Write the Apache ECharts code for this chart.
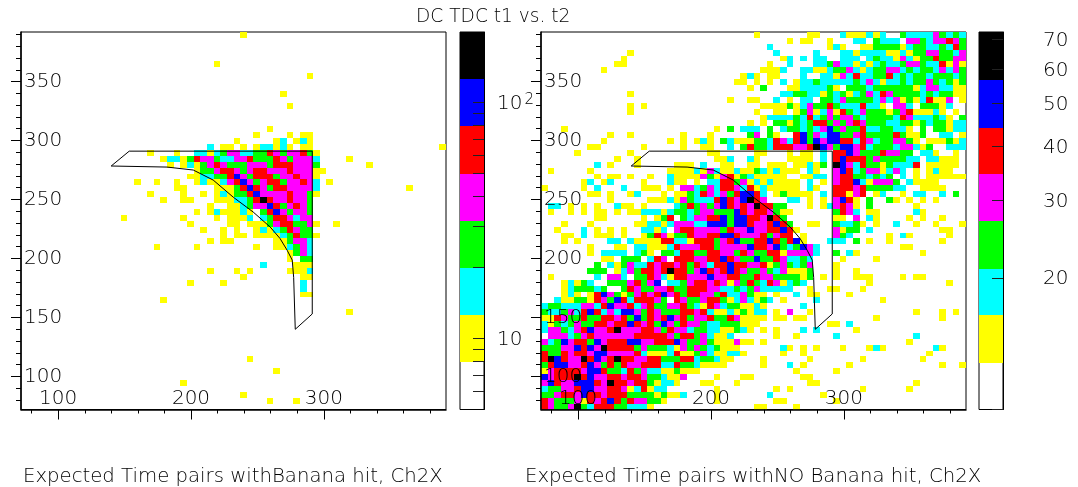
<!DOCTYPE html>
<html><head><meta charset="utf-8">
<script src="https://cdn.jsdelivr.net/npm/echarts@6/dist/echarts.min.js"></script>
<style>html,body{margin:0;padding:0;background:#fff}#c{width:1078px;height:487px}</style></head>
<body><div id="c"></div>
<script>
// Each entry: [row from the top, "startColumn:levels ..."]  levels: y c g m r b k = colour bands 1..7
const leftRows = [
[0,"33:y"],[5,"29:y"],[7,"43:y"],[10,"39:y"],[12,"40:y"],[16,"37:y"],
[17,"35:y 40:y 42:yy"],[18,"32:y 38:yc 41:ycy"],[19,"28:c 30:yy 33:y 35:yccycy 42:yy 63:y"],
[20,"19:y 23:y 26:ccycgmmccggrmgmmrgy"],[21,"21:yccygrmmgccmmrgggrmgmmmc 49:y"],
[22,"22:y 24:ycygmrmgggmmmgrrrmmmg 52:y"],[23,"26:yggmrrmgmrrmmmrmmmyy"],
[24,"25:yyccggrbmgrrrgmmrmmy"],[25,"17:y 20:y 23:y 26:ycyycmrbmgmrrgmmrmc 46:y"],
[26,"23:yy 29:yyygrbrmgrrmmmmc 58:y"],[27,"19:y 24:y 27:y 29:ycyggrbmmmmrmmgy"],
[28,"21:y 24:yy 29:yyyccgrkrmmrmmg"],[29,"28:y 31:yycgmmbrgmrmg"],
[30,"26:y 28:ycyyycy 36:grbmgmmg"],[31,"15:y 24:y 29:y 31:yyyc 36:cgrrmcmm"],
[32,"25:y 31:yy 34:yyygmrrggmy 47:y"],[33,"27:y 30:y 32:y 35:ycycgrmgg"],
[34,"30:y 32:yy 35:yyyycgrggy"],[35,"28:y 30:yy 38:yygmmc"],[36,"20:y 26:y 35:y 38:yycgmc"],
[37,"40:ygmc"],[38,"40:y 42:gg"],[39,"36:c 41:yyy"],[40,"28:y 32:y 34:y 40:yyyc"],
[41,"33:y 42:yy"],[42,"25:y 30:y 42:c"],[43,"42:c"],[44,"42:yy"],[45,"21:y"],[47,"49:y"],
[55,"34:y"],[57,"38:y"],[59,"24:y"],[61,"33:y"],[62,"37:y 41:y"]
];
const rightRows = [
[0,"32:y 40:yy 45:cyyycyc 54:gccccmgcgc"],
[1,"37:y 39:yy 43:y 47:cc 50:gccc 55:mmgcmmrmg"],
[2,"34:c 43:ycy 48:yyggggycggccgcrg"],
[3,"13:y 35:c 41:c 45:ccyccccyycyggmmggcm"],
[4,"12:y 36:yc 39:c 41:cc 45:ccc 49:cgccymcyggrggmm"],
[5,"11:yy 34:y 37:c 41:ccgmccycycgccgmmgccrymy"],
[6,"9:y 33:yyyc 39:ccyycggmcycggmmcgcggcmcmg"],
[7,"30:ycy 34:yy 39:c 42:ccymcrccggrcgcggcgggcg"],
[8,"29:yy 32:y 34:y 36:c 38:yccgcccccgcmcyccgcggmgcgyg"],
[9,"31:y 33:g 37:yy 39:ccccgy 46:gggc 50:ggggggycmmccyy"],
[10,"13:y 36:ccggccygcgycgmcrmggggcgcggyy"],
[11,"28:y 31:yy 35:c 37:y 39:cc 42:gg 44:cmggggcmcmygycryym 63:y"],
[12,"13:y 15:y 33:yyyygycmggrgcccrccy 53:mmc 57:gggyc"],
[13,"13:y 32:y 35:yy 38:ygmycmyrgcmgggygmryyy 59:cy 62:y"],
[14,"33:yccccgcrcgmgmmgcggggcrmcccgcy 63:g"],
[15,"31:y 33:y 35:ggygcgrrgmgmrmgggccggygcggycc"],
[16,"3:y 26:y 28:g 30:ccc 34:g.cggcgcmbgmggrccggccy 57:g 59:ggycc"],
[17,"10:y 13:y 21:y 25:y 31:gm 34:gy 38:rbgmcbbggmrggggrgyyg 60:cc 63:y"],
[18,"9:y 19:y 21:y 23:yc 25:y 27:gcyyyg 33:gcrmcrbgbmbbrrcrmcggmmgy 58:yyygyc"],
[19,"7:yy 15:y 21:y 24:yy 28:c 30:grg 33:gcrrrmmrkbmgbbmrcgggcmmcyg 61:ccc"],
[20,"5:y 13:y 25:yy 32:yy 37:y 39:yy 42:c 44:rrbmgggrmmgg 57:ccy 62:y"],
[21,"11:y 14:y 26:yyc 31:cy 37:yy 39:yy 42:c 44:rbrrrgmggggcc 58:ccyyy"],
[22,"8:c 10:y 14:y 20:yyy 24:c 27:yy 31:yy 34:yyy 38:yy 40:cy 42:g 44:kbmcrggygcccr 58:yyyyy"],
[23,"1:y 7:y 19:yyyycymcyycyygcycyyy 40:cy 44:mbrcgmmycmc 56:y 58:ycyy"],
[24,"8:y 10:yy 13:y 16:y 19:cyyyymgymrygcyyyyy 39:yycc 44:mrrggcgcg 54:c 56:y 58:yyyyyy"],
[25,"6:yc 9:yc 15:y 19:cyy 23:y 25:ccrrgmycycyyyy 40:c 42:y 44:mrrbcymmm 53:g 55:c 56:yyyy"],
[26,"0:y 6:y 8:c 12:c 15:yyy 19:y 21:mmcgmcrrmcryc 34:yyyyy 40:cy 44:rrrmrggggcc 57:yyyy"],
[27,"7:yy 10:y 13:yc 18:y 20:yy 22:gcr 25:mcmgrbbrc 35:ygyyyy 42:c 44:rrymr 50:yc 54:y 56:cc 60:c 62:g"],
[28,"10:y 16:yyycymgcccrbrmbkrm 37:cc 40:y 42:y 44:mbry 49:g 52:gy 55:y 57:y 59:y"],
[29,"1:cc 4:y 6:y 8:y 11:cyy 15:y 20:cg 22:rgmgmbrmrmk 33:rrg 36:g 40:y 42:ycmrmy 49:g 56:y"],
[30,"1:y 4:y 6:y 8:yy 11:y 13:yy 15:ccc 18:y 19:c 20:gg 22:cgmm 26:gggbrmrrm 35:gyy 44:grmc 49:yy 56:c 57:y"],
[31,"8:yy 15:y 17:ygr 21:gcmmrrbgbbrrmkrg 44:yy 47:m 49:cy 55:y 57:y 60:y"],
[32,"3:y 7:y 14:yyccycmmmccbbbgbbrmmrbrg 40:yy 44:gccgy 50:y 53:c 56:y 59:y 63:y"],
[33,"2:y 6:c 8:y 10:y 12:y 15:ccyc 20:mrrmmmmgrmmbmmrrbry 44:mygg 49:c 60:yy"],
[34,"3:yy 6:c 8:yyy 12:y 15:ygrmyggrmmrrbbrmmmrgmrr 39:y 44:mgc 52:y 54:cy 61:y"],
[35,"3:y 5:y 10:cc 13:cyyyyrrccyrrrgmrbggrrbrgrby 43:ccc 47:g 49:y 52:y 60:y"],
[36,"7:y 11:yy 14:ccyyyc 20:rmmmrrgmmmmbrrmbgcgbm 41:c 54:yy"],
[37,"7:y 9:cccc 14:cgy 18:ggcrrggrrmmgrmggrrymmmm 41:c 44:g 46:c 47:y 57:y"],
[38,"9:yy 12:ggg 16:crm 20:rrrmmrrbrmggbggrmccgc 45:y 50:y"],
[39,"8:g 10:cy 12:gmccrmrrmrgrmcrrbrrmmrygmgcgm 44:y"],
[40,"7:ggg 11:ycmgrrmrkrrgmbrmrbrmggmgcmyyyg 44:y 47:y"],
[41,"1:y 8:c 10:mmc 14:ggrmcyrrmmmbmmrrggrmmggggyg 42:y 44:y 47:yyy 54:y 56:yy"],
[42,"3:ycygc 10:gggmrgmb 19:ccgmrrmrmymgrgcrmycgc 49:y 61:y"],
[43,"3:ycgggcg 12:grmggmmrggrrrmmccgcgmccccc 40:y 43:yy 48:y"],
[44,"3:yc 5:y 7:yrbmgygmrmrbmrgrrmmgrccmgyy 35:y 38:c 40:yy 46:y"],
[45,"2:cyyggyrmgbrcrrrmg 20:rmggmrrgycmcygc 36:y 41:c 51:y"],
[46,"0:cggcccmmcrbmmrcmrggmmrgcyrmcggyycy 39:c"],
[47,"0:gccgmcrbrcmcbbmgrmgggrrmrcyycygycc 35:y 37:m 40:y 56:y 60:y 62:y"],
[48,"0:yyrmggrggrrmrgbgrmrbmrgmmrggrmyyyy 35:yy 38:yy 50:y 60:y"],
[49,"0:cygcgmggrrmrrbrmrgbmgrmmgccgggyyy 43:yy 46:c"],
[50,"0:cmmgcmrbmmrkmmmrrmgrmmcggccyygcy 33:y 35:y 39:c 41:c 47:y"],
[51,"1:mmmcgmrmmmmmmrrrrrmgrrgmcyyc 35:y 38:y 44:c 56:c"],
[52,"0:mcgbmrrgbmrrrbbmmrrrbmggmgyyymyy 33:y 55:y"],
[53,"0:gggmmbrbmkrrrrgmgggcymgmgcgyyy 36:cy 39:y 41:y 45:y 49:ycy 59:cy"],
[54,"0:rggrmrrmbbmmmmrcyyycryygmcyyccy 36:y 39:y 58:y"],
[55,"0:rkbrmmkrbmrkrrmmrrgggrrcggcyy 33:y 40:y 48:y 57:y"],
[56,"0:grbbmmrbmgrgrmmrrrccrggcyyyy 33:y 37:c 39:y 46:y 60:y 63:y"],
[57,"0:ymrrrrmbbrggcrgmccyygyyy 38:y 44:y"],
[58,"0:bmrrrkrbmmrrmrrmggcyym 26:y 30:yy 39:yy"],
[59,"0:mbrmmbbbrmkrrmrrgyccy 24:yy 29:y 40:yy 56:y"],
[60,"0:cggmmrbbmmrrmycrycc 26:y 35:y 37:y 48:y 55:y"],
[61,"0:ggmrrmbrrmrrrggggygyyc 26:y 34:c 42:y"],
[62,"0:rmgggmyrmrbrgrmmggy 26:y 35:yy 44:y"],
[63,"0:rmggmkgcrrrggcccy 32:yy 38:y"]
];
const bananaX = [139.9,153.5,291.3,291.3,278.5,277.3,276.2,272.4,267,259.6,246.8,231.8,216.7,201.7,182,139.9];
const bananaY = [278.4,291,291,153,140,184,198.7,207,217,226.7,239.4,252,266.5,275,277.5,278.4];
const xMajor = [100,200,300];
const xMinor = [80,120,140,160,180,220,240,260,280,320,340,360,380];
const yMajor = [100,150,200,250,300,350];
const yMinor = [80,90,110,120,130,140,160,170,180,190,210,220,230,240,260,270,280,290,310,320,330,340,360,370,380,390];
const bandColors = ['none','#ffff00','#00ffff','#00ff00','#ff00ff','#ff0000','#0000ff','#000000'];
const leftEdges = [5,7.96,12.6,20,31.6,50,79.4,126,199.5];
const leftBarTicks = [6,7,8,9,10,20,30,40,50,60,70,80,90,100];
const leftBarLabels = [10,100];
const rightEdges = [10,12.8,16.4,21,26.9,34.5,44,56.6,72.9];
const rightBarTicks = [10,20,30,40,50,60,70];
const rightBarLabels = [20,30,40,50,60,70];
const title = 'DC TDC t1 vs. t2';
const captionLeft = 'Expected Time pairs withBanana hit, Ch2X';
const captionRight = 'Expected Time pairs withNO Banana hit, Ch2X';

const FONT = '"DejaVu Sans ExtraLight","DejaVu Sans"', FW = 200, INK = '#000';
const BIN = 5, AXMIN = 72, AXMAX = 392;
function cells(rows){
  const out = [];
  rows.forEach(([r,s]) => s.split(' ').forEach(seg => {
    const [c,str] = seg.split(':');
    [...str].forEach((ch,i) => {
      const lv = '.ycgmrbk'.indexOf(ch);
      if (lv > 0) out.push([AXMIN + BIN*(+c+i), AXMAX - BIN*(r+1), lv]);
    });
  }));
  return out;
}
const grids = [
  {left:21,top:32,width:425,height:377.5,show:true,borderColor:'#000',borderWidth:1,backgroundColor:'#fff'},
  {left:541,top:32,width:425,height:377.5,show:true,borderColor:'#000',borderWidth:1,backgroundColor:'#fff'},
  {left:460,top:32,width:24,height:377.5,show:true,borderColor:'#000',borderWidth:1,backgroundColor:'#fff'},
  {left:979,top:32,width:24,height:377.5,show:true,borderColor:'#000',borderWidth:1,backgroundColor:'#fff'}
];
const xAxes = [], yAxes = [];
const labelStyle = {fontFamily:FONT,fontWeight:FW,fontSize:20,color:INK};
function panelAxes(g){
  const xi = xAxes.length, yi = yAxes.length;
  const base = {type:'value',gridIndex:g,min:AXMIN,max:AXMAX,splitLine:{show:false},z:5,silent:true};
  const line = {show:true,onZero:false,lineStyle:{color:'#000',width:1.5}};
  xAxes.push({...base,position:'bottom',axisLine:line,
    axisTick:{show:true,length:10,customValues:xMajor,lineStyle:{color:'#000',width:1}},
    axisLabel:{show:true,inside:true,margin:1,customValues:xMajor,...labelStyle}});
  xAxes.push({...base,position:'bottom',axisLine:{show:false},
    axisTick:{show:true,length:4,customValues:xMinor,lineStyle:{color:'#000',width:1}},axisLabel:{show:false}});
  yAxes.push({...base,position:'left',axisLine:line,
    axisTick:{show:true,length:10,customValues:yMajor,lineStyle:{color:'#000',width:1}},
    axisLabel:{show:true,inside:true,margin:3,customValues:yMajor,padding:[2,0,0,0],...labelStyle}});
  yAxes.push({...base,position:'left',axisLine:{show:false},
    axisTick:{show:true,length:5,customValues:yMinor,lineStyle:{color:'#000',width:1}},axisLabel:{show:false}});
  return [xi,yi];
}
function barAxes(g,edges,ticks,labels,margin,fmt){
  const xi = xAxes.length, yi = yAxes.length;
  xAxes.push({type:'value',gridIndex:g,min:0,max:1,show:false});
  yAxes.push({type:'log',gridIndex:g,min:edges[0],max:edges[edges.length-1],position:'right',z:5,silent:true,
    splitLine:{show:false},axisLine:{show:true,onZero:false,lineStyle:{color:'#000',width:1}},
    axisTick:{show:true,inside:true,length:11,customValues:ticks,lineStyle:{color:'#222',width:1}},
    axisLabel:{show:true,margin,customValues:labels,formatter:fmt,padding:[3,0,0,0],...labelStyle,
      rich:{b:{fontFamily:FONT,fontWeight:FW,fontSize:20,color:INK},s:{fontFamily:FONT,fontWeight:FW,fontSize:15,color:INK,verticalAlign:'top',padding:[0,0,8,2]}}}});
  return [xi,yi];
}
function heat(xi,yi,data){
  return {type:'custom',xAxisIndex:xi,yAxisIndex:yi,data,z:2,clip:true,silent:true,
    renderItem:(p,api)=>{
      const x = api.value(0), y = api.value(1);
      const a = api.coord([x,y+BIN]), b = api.coord([x+BIN,y]);
      const X = Math.round(a[0]), Y = Math.round(a[1]);
      return {type:'rect',shape:{x:X,y:Y,width:Math.round(b[0])-X,height:Math.round(b[1])-Y},
        style:{fill:bandColors[api.value(2)]}};
    }};
}
function banana(xi,yi){
  return {type:'line',xAxisIndex:xi,yAxisIndex:yi,z:6,silent:true,symbol:'none',animation:false,
    data:bananaX.map((x,i)=>[x,bananaY[i]]),lineStyle:{color:'#000',width:1}};
}
function bar(xi,yi,edges){
  const data = bandColors.map((c,i)=>[edges[i],edges[i+1],i]);
  return {type:'custom',xAxisIndex:xi,yAxisIndex:yi,data,z:2,silent:true,
    encode:{y:[0,1]},
    renderItem:(p,api)=>{
      const a = api.coord([0,api.value(1)]), b = api.coord([1,api.value(0)]);
      const X = Math.round(a[0]), Y = Math.round(a[1]);
      return {type:'rect',shape:{x:X,y:Y,width:Math.round(b[0])-X,height:Math.round(b[1])-Y},
        style:{fill:bandColors[api.value(2)]}};
    }};
}
const pL = panelAxes(0), pR = panelAxes(1);
const bL = barAxes(2,leftEdges,leftBarTicks,leftBarLabels,13,v => v>=100 ? '{b|10}{s|2}' : '{b|10}');
const bR = barAxes(3,rightEdges,rightBarTicks,rightBarLabels,40,v => String(v));
const tStyle = (size)=>({fontFamily:FONT,fontWeight:FW,fontSize:size,color:INK});
const chart = echarts.init(document.getElementById('c'),null,{renderer:'canvas'});
chart.setOption({
  animation:false,backgroundColor:'#fff',
  title:[
    {text:title,left:411,top:3,textStyle:tStyle(18.6)},
    {text:captionLeft,left:18,top:462,textStyle:tStyle(19.7)},
    {text:captionRight,left:520,top:462,textStyle:tStyle(19.7)}
  ],
  grid:grids,xAxis:xAxes,yAxis:yAxes,
  series:[
    heat(pL[0],pL[1],cells(leftRows)),banana(pL[0],pL[1]),
    heat(pR[0],pR[1],cells(rightRows)),banana(pR[0],pR[1]),
    bar(bL[0],bL[1],leftEdges),bar(bR[0],bR[1],rightEdges)
  ]
});
</script></body></html>
